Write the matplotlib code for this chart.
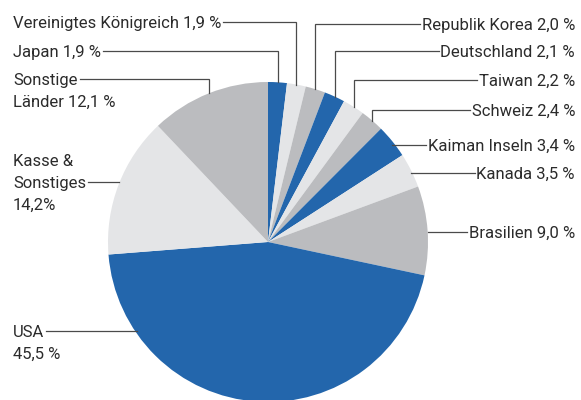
import matplotlib
matplotlib.use("Agg")
import matplotlib.pyplot as plt
import numpy as np

labels = ["Japan 1,9 %", "Vereinigtes Königreich 1,9 %", "Republik Korea 2,0 %",
          "Deutschland 2,1 %", "Taiwan 2,2 %", "Schweiz 2,4 %", "Kaiman Inseln 3,4 %",
          "Kanada 3,5 %", "Brasilien 9,0 %", "USA\n45,5 %", "Kasse &\nSonstiges\n14,2%",
          "Sonstige\nLänder 12,1 %"]
values = [1.9, 1.9, 2.0, 2.1, 2.2, 2.4, 3.4, 3.5, 9.0, 45.5, 14.2, 12.1]

BLUE = "#2366ac"
LIGHT = "#e4e5e7"
GREY = "#bbbcbf"
colors = [BLUE, LIGHT, GREY, BLUE, LIGHT, GREY, BLUE, LIGHT, GREY, BLUE, LIGHT, GREY]

plt.rcParams['font.family'] = ['Roboto', 'DejaVu Sans']
TXT = "#2b2b2b"
LINE = "#4a4a4a"
FS = 12

W, H = 581, 400
fig = plt.figure(figsize=(W / 100, H / 100), dpi=100)
ax = fig.add_axes([0, 0, 1, 1])

cx, cy, R = 268, H - 242, 160
wedges, _ = ax.pie(values, colors=colors, startangle=90, counterclock=False,
                   center=(cx, cy), radius=R, frame=True,
                   wedgeprops=dict(linewidth=0))
ax.set_xlim(0, W)
ax.set_ylim(0, H)
ax.axis("off")


def edge(i):
    w = wedges[i]
    a = np.deg2rad((w.theta1 + w.theta2) / 2)
    return cx + R * np.cos(a), cy + R * np.sin(a)


def Y(py):
    return H - py


lw = 0.9
right = [(2, 24, "elbow"), (3, 51, "elbow"), (4, 80, "elbow"), (5, 110, "elbow"),
         (6, 145, "flat"), (7, 173, "flat"), (8, 232, "flat")]
text_right = 575
for i, py, kind in right:
    ex, ey = edge(i)
    t = ax.text(text_right, Y(py), labels[i], ha="right", va="center_baseline",
                fontsize=FS, color=TXT)
    fig.canvas.draw()
    bb = t.get_window_extent()
    tx0 = bb.x0 - 1.5
    if kind == "elbow":
        ax.plot([ex, ex, tx0], [ey, Y(py), Y(py)], color=LINE, lw=lw,
                solid_joinstyle="miter")
    else:
        ax.plot([ex, tx0], [Y(py), Y(py)], color=LINE, lw=lw)

text_left = 13
left = [(1, 22, "elbow", 0), (0, 51, "elbow", 0), (11, 79, "elbow", 0),
        (10, 182, "flat", 1), (9, 331, "usa", 0)]
spacing = 21.5
for i, py, kind, line_idx in left:
    lines = labels[i].split("\n")
    first_y = py - line_idx * spacing
    ends = []
    for k, s in enumerate(lines):
        t = ax.text(text_left, Y(first_y + k * spacing), s, ha="left",
                    va="center_baseline", fontsize=FS, color=TXT)
        fig.canvas.draw()
        ends.append(t.get_window_extent().x1)
    tx1 = ends[line_idx] + 2
    ex, ey = edge(i)
    if kind == "elbow":
        ax.plot([tx1, ex, ex], [Y(py), Y(py), ey], color=LINE, lw=lw,
                solid_joinstyle="miter")
    elif kind == "flat":
        ax.plot([tx1, ex], [Y(py), Y(py)], color=LINE, lw=lw)
    else:
        dy = cy - Y(py)
        xe = cx - np.sqrt(R ** 2 - dy ** 2)
        ax.plot([tx1, xe + 2], [Y(py), Y(py)], color=LINE, lw=lw)

fig.savefig("out.png", dpi=100, facecolor="white")
